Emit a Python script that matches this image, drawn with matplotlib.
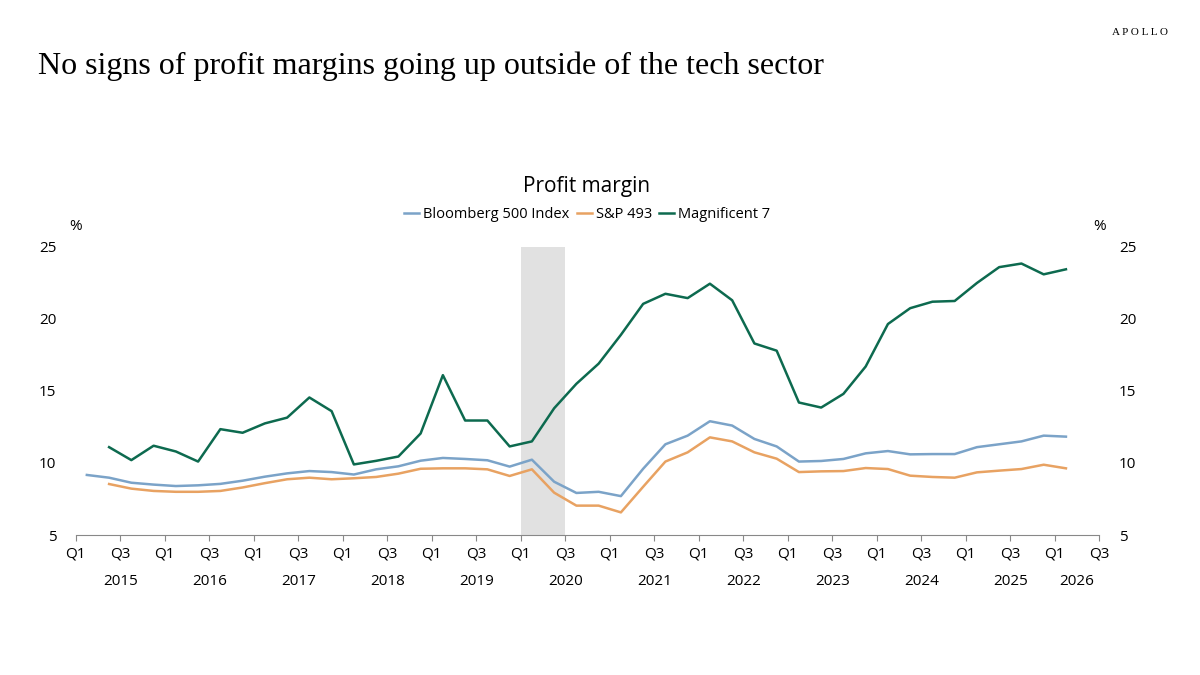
import matplotlib
matplotlib.use("Agg")
import matplotlib.pyplot as plt
import numpy as np

bloomberg = [9.17,8.98,8.63,8.5,8.4,8.45,8.55,8.77,9.05,9.28,9.44,9.37,9.2,9.56,9.77,10.16,10.35,10.28,10.19,9.75,10.23,8.7,7.92,
             8.0,7.7,9.6,11.3,11.9,12.9,12.6,11.67,11.15,10.1,10.14,10.28,10.67,10.83,10.6,10.62,10.62,11.1,11.3,11.5,11.9,11.83]
sp493 = [8.54,8.22,8.06,8.0,8.0,8.06,8.3,8.6,8.87,8.98,8.87,8.94,9.03,9.26,9.6,9.63,9.63,9.56,9.1,9.56,7.94,7.04,
         7.04,6.57,8.35,10.1,10.74,11.78,11.5,10.74,10.3,9.37,9.42,9.44,9.65,9.58,9.12,9.03,8.98,9.35,9.47,9.58,9.88,9.63]
mag7 = [11.1,10.2,11.2,10.8,10.1,12.35,12.1,12.75,13.15,14.55,13.6,9.9,10.15,10.45,12.05,16.1,12.95,12.95,11.15,11.5,13.8,15.5,
        16.9,18.9,21.05,21.75,21.45,22.45,21.3,18.3,17.8,14.2,13.85,14.8,16.7,19.65,20.75,21.2,21.25,22.5,23.6,23.85,23.1,23.45]
years = [str(y) for y in range(2015, 2027)]

xb = np.arange(len(bloomberg)) + 0.5
xs = np.arange(len(sp493)) + 1.5

fig = plt.figure(figsize=(12, 6.75), dpi=100)
ax = fig.add_axes([0.0631, 0.2074, 0.853, 0.4267])
ax.axvspan(20, 22, color="#e1e1e1", lw=0)
ax.plot(xb, bloomberg, color="#7ba3c8", lw=1.8, label="Bloomberg 500 Index")
ax.plot(xs, sp493, color="#e8a262", lw=1.8, label="S&P 493")
ax.plot(xs, mag7, color="#0d6a4f", lw=1.8, label="Magnificent 7")
ax.set_xlim(0, 46)
ax.set_ylim(5, 25)
ax.set_yticks([5, 10, 15, 20, 25])
for s in ["top", "left", "right"]:
    ax.spines[s].set_visible(False)
ax.spines["bottom"].set_color("#888888")
ticks = np.arange(0, 47, 2)
ax.set_xticks(ticks)
ax.set_xticklabels(["Q1" if (t % 4 == 0) else "Q3" for t in ticks], fontsize=11, family="Open Sans")
ax.tick_params(axis="x", length=4, color="#888888", pad=4)
ax.tick_params(axis="y", length=0, labelsize=11, labelleft=True, labelright=True, pad=14)
for lab in ax.get_yticklabels():
    lab.set_family("Open Sans")
for i, y in enumerate(years):
    pos = 2 + 4 * i if i < 11 else 45
    ax.text(pos, -0.135, y, transform=ax.get_xaxis_transform(), ha="center", va="top", fontsize=11, family="Open Sans")
ax.text(0, 1.06, "%", transform=ax.transAxes, ha="center", fontsize=11, family="Open Sans")
ax.text(1.0, 1.06, "%", transform=ax.transAxes, ha="center", fontsize=11, family="Open Sans")
fig.text(0.489, 0.715, "Profit margin", ha="center", fontsize=15, family="Open Sans")
ax.legend(loc="lower center", bbox_to_anchor=(0.5, 1.04), ncol=3, frameon=False,
          handlelength=1.0, columnspacing=0.5, handletextpad=0.3, prop={"family": "Open Sans", "size": 10.5})
fig.text(0.032, 0.89, "No signs of profit margins going up outside of the tech sector", fontsize=23, family="Liberation Serif")
fig.text(0.95, 0.948, "A P O L L O", ha="center", fontsize=8, family="Liberation Serif")
fig.savefig("out.png", dpi=100)
